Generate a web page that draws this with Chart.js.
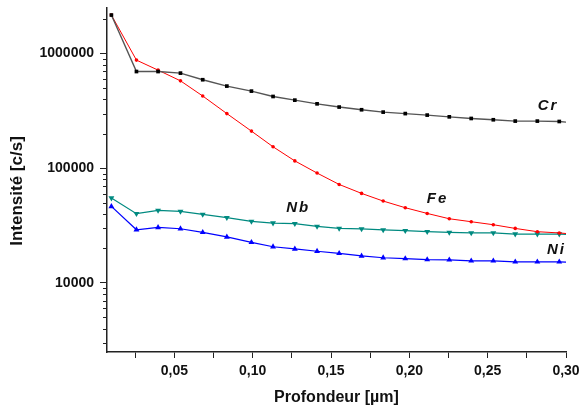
<!DOCTYPE html>
<html>
<head>
<meta charset="utf-8">
<script src="https://cdn.jsdelivr.net/npm/chart.js@4/dist/chart.umd.min.js"></script>
<style>
  html, body { margin: 0; padding: 0; background: #ffffff; }
  #wrap { width: 581px; height: 412px; }
</style>
</head>
<body>
<div id="wrap"><canvas id="c" width="581" height="412"></canvas></div>
<script>
// ---- data ----
const depth = [0.0098, 0.0258, 0.0396, 0.0539, 0.0681, 0.0835, 0.0992, 0.1130, 0.1269, 0.1411, 0.1552,
               0.1695, 0.1833, 0.1974, 0.2114, 0.2255, 0.2395, 0.2536, 0.2676, 0.2817, 0.2957, 0.3100];
const cr = [2170000, 698000, 698000, 676000, 592000, 521000, 471000, 423000, 393000, 365000, 342000,
            324000, 309000, 300000, 291000, 281000, 272000, 265000, 258000, 258000, 256000, 245000];
const fe = [2170000, 878000, 718000, 579000, 427000, 300000, 211000, 154000, 116000, 90900, 72300,
            60400, 51800, 45300, 40400, 36300, 34200, 32200, 29900, 28000, 27300, 26300];
const nb = [55000, 40200, 42900, 42100, 39600, 37100, 34400, 33300, 32900, 31100, 29900,
            29600, 29000, 28600, 28000, 27600, 27300, 27300, 26700, 26700, 26700, 26200];
const ni = [46500, 29100, 30500, 29700, 27600, 25200, 22600, 20700, 19800, 18900, 18100,
            17200, 16600, 16300, 16000, 15900, 15600, 15600, 15300, 15300, 15300, 14900];
const seriesNames = ['Cr', 'Fe', 'Nb', 'Ni'];
const xTickValues = [0.025, 0.05, 0.075, 0.10, 0.125, 0.15, 0.175, 0.20, 0.225, 0.25, 0.275, 0.30];
const yMajorTicks = [10000, 100000, 1000000];
const xTitle = 'Profondeur [µm]';
const yTitle = 'Intensité [c/s]';

const toXY = (ys) => depth.map((d, i) => ({ x: d, y: ys[i] }));

const FONT = '"Liberation Sans", Arial, sans-serif';

const decorPlugin = {
  id: 'decor',
  afterDraw(chart) {
    const ctx = chart.ctx;
    const ys = chart.scales.y, xs = chart.scales.x;
    const area = chart.chartArea;
    ctx.save();
    ctx.strokeStyle = '#222';
    ctx.lineWidth = 1;
    for (let dec = 1000; dec <= 1000000; dec *= 10) {
      for (let m = 2; m <= 9; m++) {
        const v = dec * m;
        if (v < ys.min || v > ys.max) continue;
        const py = Math.round(ys.getPixelForValue(v)) + 0.5;
        ctx.beginPath();
        ctx.moveTo(area.left - 4, py);
        ctx.lineTo(area.left, py);
        ctx.stroke();
      }
    }
    ctx.fillStyle = '#111';
    ctx.textAlign = 'center';
    ctx.textBaseline = 'middle';
    ctx.font = 'bold 16px ' + FONT;
    ctx.fillText(xTitle, (area.left + area.right) / 2, 398);
    ctx.save();
    ctx.translate(17, 191);
    ctx.rotate(-Math.PI / 2);
    ctx.font = 'bold 17px ' + FONT;
    ctx.fillText(yTitle, 0, 0);
    ctx.restore();
    const labels = [
      { t: seriesNames[0], x: 0.2885, y: 349000 },
      { t: seriesNames[1], x: 0.2180, y: 54000 },
      { t: seriesNames[2], x: 0.1291, y: 45400 },
      { t: seriesNames[3], x: 0.2939, y: 19600 }
    ];
    ctx.font = 'italic bold 15px ' + FONT;
    if ('letterSpacing' in ctx) ctx.letterSpacing = '2px';
    labels.forEach(l => {
      ctx.fillText(l.t, xs.getPixelForValue(l.x), ys.getPixelForValue(l.y));
    });
    ctx.restore();
  }
};

new Chart(document.getElementById('c'), {
  type: 'line',
  data: {
    datasets: [
      { label: seriesNames[0], data: toXY(cr), borderColor: '#555555', backgroundColor: '#000000',
        pointBorderColor: '#000000', borderWidth: 1.4, pointStyle: 'rect', pointRadius: 2.6, pointBorderWidth: 0 },
      { label: seriesNames[1], data: toXY(fe), borderColor: '#ff0000', backgroundColor: '#ff0000',
        pointBorderColor: '#ff0000', borderWidth: 1, pointStyle: 'circle', pointRadius: 1.8, pointBorderWidth: 0 },
      { label: seriesNames[2], data: toXY(nb), borderColor: '#008a80', backgroundColor: '#008a80',
        pointBorderColor: '#008a80', borderWidth: 1.2, pointStyle: 'triangle', rotation: 180, pointRadius: 3.4, pointBorderWidth: 0 },
      { label: seriesNames[3], data: toXY(ni), borderColor: '#0000ff', backgroundColor: '#0000ff',
        pointBorderColor: '#0000ff', borderWidth: 1.2, pointStyle: 'triangle', pointRadius: 3.4, pointBorderWidth: 0 }
    ]
  },
  options: {
    responsive: false,
    animation: false,
    devicePixelRatio: 1,
    layout: { padding: { left: 0, right: 15, top: 8, bottom: 0 } },
    plugins: { legend: { display: false }, tooltip: { enabled: false } },
    elements: { line: { tension: 0 } },
    scales: {
      x: {
        type: 'linear',
        min: 0.007,
        max: 0.30,
        afterBuildTicks: (s) => { s.ticks = xTickValues.map(v => ({ value: v })); },
        afterFit: (s) => { s.height = 60; s.paddingLeft = 0; s.paddingRight = 0; },
        border: { display: true, color: '#222', width: 1.5 },
        grid: { drawOnChartArea: false, drawTicks: true, tickLength: 6, color: '#222', tickColor: '#222' },
        ticks: {
          autoSkip: false,
          maxRotation: 0,
          padding: 5,
          color: '#111',
          font: { family: FONT, size: 14, weight: 'bold' },
          callback: (v) => {
            const r = Math.round(v * 1000);
            return (r % 50 === 0) ? (v.toFixed(2).replace('.', ',')) : '';
          }
        }
      },
      y: {
        type: 'logarithmic',
        min: 2500,
        max: 2500000,
        afterBuildTicks: (s) => { s.ticks = yMajorTicks.map(v => ({ value: v })); },
        afterFit: (s) => { s.width = 107; s.paddingTop = 0; s.paddingBottom = 0; },
        border: { display: true, color: '#222', width: 1.5 },
        grid: { drawOnChartArea: false, drawTicks: true, tickLength: 7, color: '#222', tickColor: '#222' },
        ticks: {
          autoSkip: false,
          padding: 6,
          color: '#111',
          font: { family: FONT, size: 14, weight: 'bold' },
          callback: (v) => String(Math.round(v))
        }
      }
    }
  },
  plugins: [decorPlugin]
});
</script>
</body>
</html>
